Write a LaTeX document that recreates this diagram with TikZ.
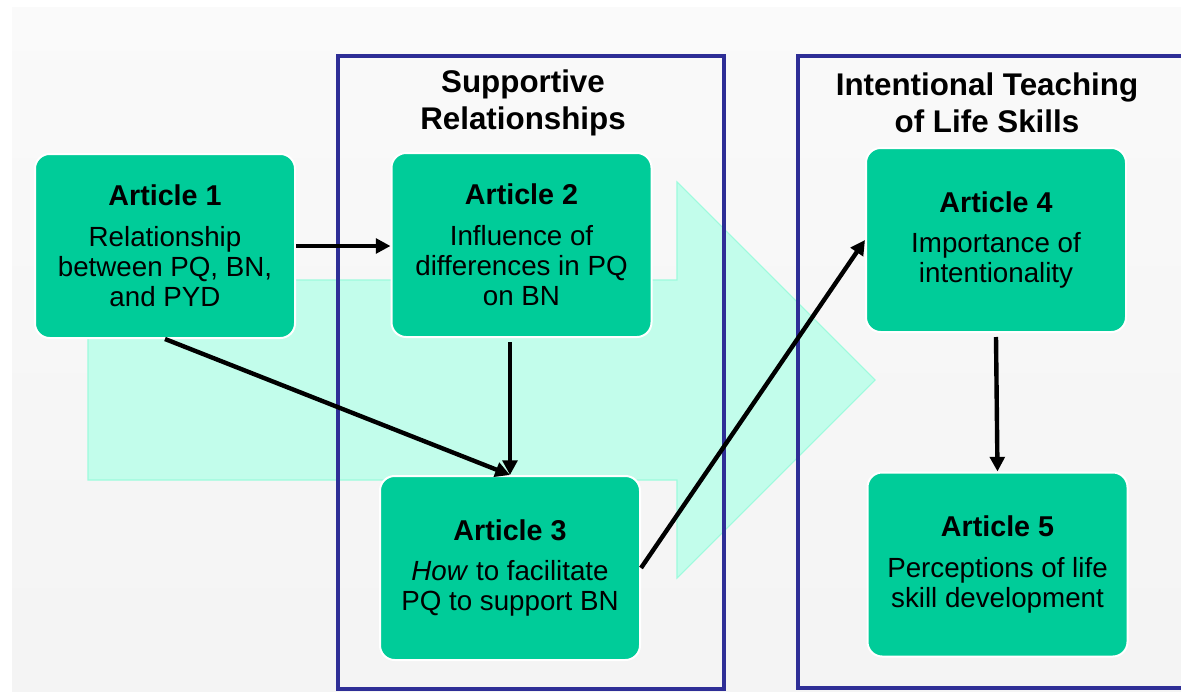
\documentclass[tikz,border=0pt]{standalone}
\usepackage{fontspec}
\setmainfont{Liberation Sans}
\usetikzlibrary{arrows.meta}
\definecolor{boxgreen}{HTML}{00CC99}
\definecolor{groupblue}{HTML}{2E2E96}
\definecolor{mint}{HTML}{C2FDEB}
\definecolor{mintline}{HTML}{9DFBDD}
\newcommand{\arttitle}[1]{{\fontsize{21.5}{25}\selectfont\bfseries Article #1}\\[8pt]}

\begin{document}
\begin{tikzpicture}[x=.75pt, y=-.75pt, >={Triangle[length=11pt, width=11pt]},
    article/.style={draw=white, line width=1.5pt, fill=boxgreen, rounded corners=11pt,
      minimum width=195pt, minimum height=138pt, align=center, inner sep=0pt,
      font=\fontsize{20.8}{22.5}\selectfont},
    grouprect/.style={draw=groupblue, line width=3.5pt},
    heading/.style={align=center, font=\fontsize{23.5}{28}\selectfont\bfseries},
    link/.style={->, line width=3.3pt}]
    \clip (0, 0) rectangle (1181, 692);
    \fill [white] (0, 0) rectangle (1181, 692);
    \shade [top color=black!2, bottom color=black!4.5] (12, 8) rectangle (1181, 692);
    \filldraw [fill=mint, draw=mintline, line width=.8pt] (88, 280) -- (677, 280) --
    (677, 182) -- (875, 380) -- (677, 578) -- (677, 480) -- (88, 480) -- cycle;
    \draw [grouprect] (338, 56) rectangle (724, 689) (798, 56) rectangle (1200, 688);
    \node [heading] (supp)   at (523, 103) {Supportive\\Relationships};
    \node [heading] (intent) at (987, 103) {Intentional Teaching\\of Life Skills};
    \node [article] (art1) at (165, 246)    {\arttitle{1}Relationship\\between PQ, BN,\\and PYD};
    \node [article] (art2) at (521.5, 245)  {\arttitle{2}Influence of\\differences in PQ\\on BN};
    \node [article] (art3) at (510, 568)    {\arttitle{3}\textit{How} to facilitate\\PQ to support BN};
    \node [article] (art4) at (996, 240)    {\arttitle{4}Importance of\\intentionality};
    \node [article] (art5) at (997.5, 564.5) {\arttitle{5}Perceptions of life\\skill development};
    \draw [link] (art1.east) -- (art1.east -| art2.west);
    \draw [link] (art1.south) -- (art3.north);
    \draw [link] ([yshift=-3pt]art2.south -| art3.north) -- (art3.north);
    \draw [link] (art3.east) -- (art4.west);
    \draw [link] ([yshift=-3pt]art4.south) -- (art5.north);
\end{tikzpicture}
\end{document}
